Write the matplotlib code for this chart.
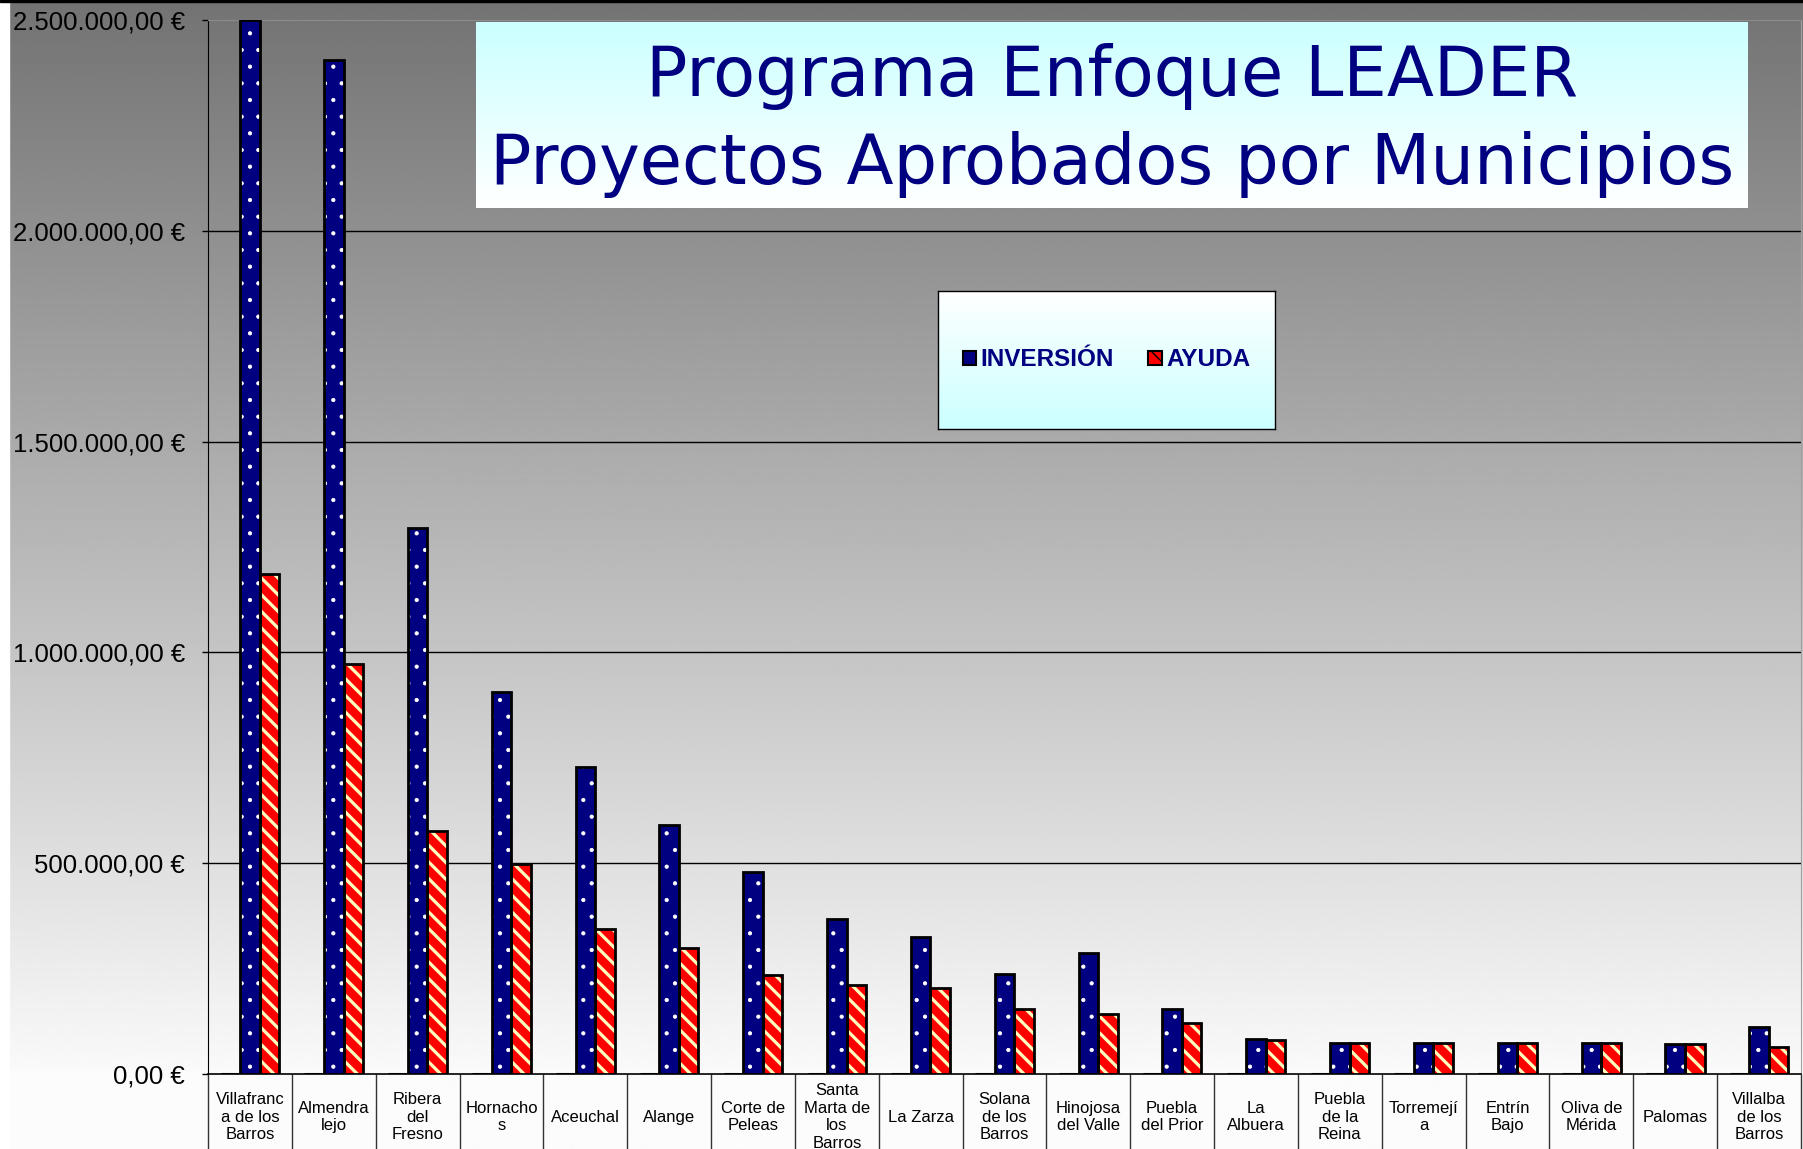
import numpy as np
import matplotlib
matplotlib.use('Agg')
import matplotlib.pyplot as plt
from matplotlib.patches import Rectangle, Patch
from matplotlib.colors import LinearSegmentedColormap

plt.rcParams['font.family'] = ['Liberation Sans', 'DejaVu Sans']

municipios = ['Villafranc\na de los\nBarros', 'Almendra\nlejo', 'Ribera\ndel\nFresno',
              'Hornacho\ns', 'Aceuchal', 'Alange', 'Corte de\nPeleas',
              'Santa\nMarta de\nlos\nBarros', 'La Zarza', 'Solana\nde los\nBarros',
              'Hinojosa\ndel Valle', 'Puebla\ndel Prior', 'La\nAlbuera',
              'Puebla\nde la\nReina', 'Torremejí\na', 'Entrín\nBajo',
              'Oliva de\nMérida', 'Palomas', 'Villalba\nde los\nBarros']
inversion = [2500000, 2404000, 1294000, 906000, 729000, 590000, 480000, 368000,
             325000, 237000, 287000, 153000, 83000, 74000, 73000, 73000, 73000,
             70000, 111000]
ayuda = [1187000, 972000, 576000, 497000, 344000, 300000, 235000, 210000,
         205000, 155000, 142000, 120000, 80000, 74000, 73000, 73000, 73000,
         70000, 64000]
vacio = [0] * len(municipios)  # third (empty) series in the original sheet

y_ticks = [0, 500000, 1000000, 1500000, 2000000, 2500000]
y_labels = ['0,00 €', '500.000,00 €', '1.000.000,00 €', '1.500.000,00 €',
            '2.000.000,00 €', '2.500.000,00 €']

W, H = 1803, 1149
fig = plt.figure(figsize=(W / 100, H / 100), dpi=100)

# gray gradient background of the whole chart
bg = fig.add_axes([0, 0, 1, 1], zorder=-10)
rows = np.linspace(0, 1, 400)
grad = np.where(rows < 1074 / H, 0.45 + (0.98 - 0.45) * rows / (1074 / H), 0.985)
bg.imshow(np.repeat(grad[:, None], 2, axis=1), cmap='gray', vmin=0, vmax=1,
          aspect='auto', extent=[0, 1, 0, 1], origin='upper')
bg.set_xlim(0, 1)
bg.set_ylim(0, 1)
bg.axis('off')
fig.patches.append(Rectangle((0, 0), 9 / W, 1, transform=fig.transFigure,
                             color='white', zorder=-5))
fig.patches.append(Rectangle((0, 1 - 2 / H), 1, 2 / H, transform=fig.transFigure,
                             color='black', zorder=-5))

ax = fig.add_axes([208 / W, 1 - 1074 / H, (1801 - 208) / W, (1074 - 20) / H])
ax.set_facecolor('none')

n = len(municipios)
x = np.arange(n) + 0.5
w = 0.233


def bars(xpos, vals, face, hatch, hcolor, hlw):
    with plt.rc_context({'hatch.linewidth': hlw}):
        b = ax.bar(xpos, vals, w, color=face, edgecolor=hcolor, hatch=hatch,
                   linewidth=0, zorder=3)
    for p in b:
        if hasattr(p, 'set_hatch_linewidth'):
            p.set_hatch_linewidth(hlw)
    ax.bar(xpos, vals, w, fill=False, edgecolor='black', linewidth=2, zorder=4)


ax.bar(x - w, vacio, w, fill=False, edgecolor='black', linewidth=2.2, zorder=4)
bars(x, inversion, '#000080', '.', 'white', 0.6)
bars(x + w, ayuda, '#ff0000', '\\\\', '#ffffc0', 2.3)

ax.set_xlim(0, n)
ax.set_ylim(0, 2500000)
ax.set_yticks(y_ticks)
ax.set_yticklabels(y_labels, fontsize=18.5)
ax.tick_params(axis='y', direction='out', length=4.5, width=1, pad=12)
for yv in y_ticks[1:-1]:
    ax.axhline(yv, color='black', lw=1, zorder=1)

ax.set_xticks(x)
ax.set_xticklabels(municipios, fontsize=12, linespacing=1.22)
ax.tick_params(axis='x', length=0, pad=31)
for lab in ax.get_xticklabels():
    lab.set_verticalalignment('center')
ax.vlines(np.arange(n + 1), -0.2, 0, transform=ax.get_xaxis_transform(),
          color='#333333', lw=1, clip_on=False)

ax.spines['left'].set_color('black')
ax.spines['bottom'].set_color('black')
ax.spines['bottom'].set_linewidth(1.2)
ax.spines['top'].set_color('#8c8c8c')
ax.spines['right'].set_color('#a0a0a0')

# title box
cyan = LinearSegmentedColormap.from_list('c', ['#ccffff', '#ffffff'])
tax = fig.add_axes([476 / W, 1 - 208 / H, 1272 / W, 186 / H])
tax.imshow(np.linspace(0, 1, 100)[:, None], cmap=cyan, aspect='auto',
           extent=[0, 1, 0, 1])
tax.set_xlim(0, 1)
tax.set_ylim(0, 1)
tax.axis('off')
tax.text(0.5, 0.602, 'Programa Enfoque LEADER', ha='center', va='baseline',
         fontsize=49.5, color='#000080', family='DejaVu Sans')
tax.text(0.5, 0.129, 'Proyectos Aprobados por Municipios', ha='center',
         va='baseline', fontsize=49.5, color='#000080', family='DejaVu Sans')

# legend box
lax = fig.add_axes([938 / W, 1 - 429 / H, 337 / W, 138 / H])
lcm = LinearSegmentedColormap.from_list('l', ['#ffffff', '#ccffff'])
lax.imshow(np.linspace(0, 1, 100)[:, None], cmap=lcm, aspect='auto',
           extent=[0, 1, 0, 1])
lax.set_xlim(0, 1)
lax.set_ylim(0, 1)
lax.set_xticks([])
lax.set_yticks([])
for s in lax.spines.values():
    s.set_color('black')
    s.set_linewidth(1)
handles = [Patch(facecolor='#000080', edgecolor='black', linewidth=1.5),
           Patch(facecolor='#ff0000', edgecolor='black', linewidth=1.5, hatch='\\\\')]
leg = lax.legend(handles, ['INVERSIÓN', 'AYUDA'], loc='center', ncol=2,
                 frameon=False, handlelength=0.55, handleheight=0.55,
                 handletextpad=0.2, columnspacing=1.4,
                 prop={'weight': 'bold', 'size': 17.5})
for t in leg.get_texts():
    t.set_color('#000080')

fig.savefig('out.png', dpi=100)
